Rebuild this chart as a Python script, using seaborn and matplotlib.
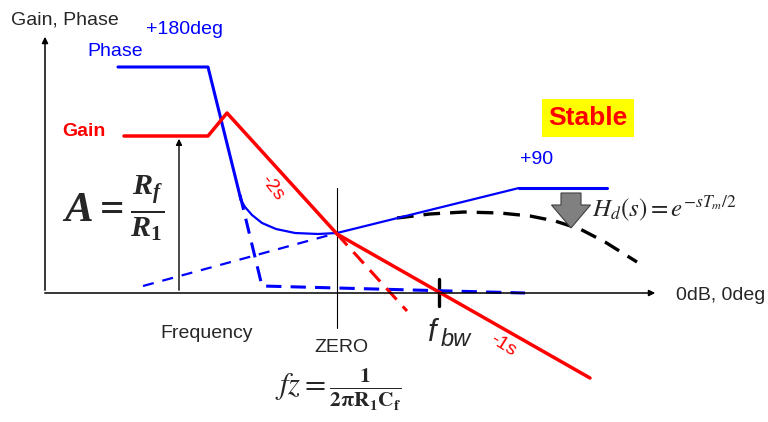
import matplotlib
matplotlib.use("Agg")
import matplotlib.pyplot as plt
import seaborn as sns

sns.set_style("white")
plt.rcParams['font.family'] = ['Liberation Sans', 'DejaVu Sans']
plt.rcParams['mathtext.fontset'] = 'stix'
# bold italic serif for the gain formula
plt.rcParams['mathtext.rm'] = 'Liberation Serif:bold'
plt.rcParams['mathtext.it'] = 'Liberation Serif:italic:bold'
plt.rcParams['mathtext.bf'] = 'Liberation Serif:bold'

# asymptotic Bode sketch, values in picture units (x right, y down)
phase_x = [118, 208, 241]
phase_y = [67, 67, 200]
phase_knee_x = [241, 245, 252, 262, 276, 295, 318, 337]
phase_knee_y = [200, 207, 215, 223, 229, 233, 234, 233]
phase_rise_x = [337, 519, 607]
phase_rise_y = [233, 188, 188]

gain_x = [124, 208, 227, 337, 590]
gain_y = [136, 136, 113, 234, 378]
gain_ext_x = [337, 407]
gain_ext_y = [234, 311]

zero_asym_x = [143, 337]
zero_asym_y = [286, 233]
pole_asym_x = [240, 262, 525]
pole_asym_y = [195, 286, 293]

delay_x = [397, 430, 464, 500, 530, 555, 580, 605, 637]
delay_y = [218, 214, 212, 213, 216, 221, 229, 242, 262]

BLUE = '#0000ff'
RED = '#ff0000'

fig = plt.figure(figsize=(7.68, 4.22), dpi=100)
ax = fig.add_axes([0, 0, 1, 1])
ax.set_xlim(0, 768)
ax.set_ylim(422, 0)
ax.axis('off')

# axes of the sketch
ax.annotate('', xy=(45, 34), xytext=(45, 293),
            arrowprops=dict(arrowstyle='-|>', color='black', lw=1.1, mutation_scale=9))
ax.annotate('', xy=(658, 293), xytext=(42, 293),
            arrowprops=dict(arrowstyle='-|>', color='black', lw=1.1, mutation_scale=9))
ax.annotate('', xy=(179, 136), xytext=(179, 293),
            arrowprops=dict(arrowstyle='-|>', color='black', lw=1.0, mutation_scale=9))
ax.plot([337, 337], [188, 328], color='black', lw=0.8)
ax.plot([439, 439], [279, 306], color='black', lw=2.4)

# dashed asymptotes
sns.lineplot(x=zero_asym_x, y=zero_asym_y, sort=False, estimator=None, ax=ax,
             color=BLUE, lw=1.6, linestyle=(0, (5, 4)))
sns.lineplot(x=pole_asym_x, y=pole_asym_y, sort=False, estimator=None, ax=ax,
             color=BLUE, lw=2.2, linestyle=(0, (5, 3)))
sns.lineplot(x=gain_ext_x, y=gain_ext_y, sort=False, estimator=None, ax=ax,
             color=RED, lw=2.2, linestyle=(0, (5, 3)))
sns.lineplot(x=delay_x, y=delay_y, sort=False, estimator=None, ax=ax,
             color='black', lw=2.4, linestyle=(0, (5, 3)))

# phase
sns.lineplot(x=phase_x, y=phase_y, sort=False, estimator=None, ax=ax, color=BLUE, lw=2.2)
sns.lineplot(x=phase_knee_x, y=phase_knee_y, sort=False, estimator=None, ax=ax, color=BLUE, lw=1.6)
sns.lineplot(x=phase_rise_x[:2], y=phase_rise_y[:2], sort=False, estimator=None, ax=ax,
             color=BLUE, lw=1.6)
sns.lineplot(x=phase_rise_x[1:], y=phase_rise_y[1:], sort=False, estimator=None, ax=ax,
             color=BLUE, lw=2.2)

# gain
sns.lineplot(x=gain_x, y=gain_y, sort=False, estimator=None, ax=ax, color=RED, lw=2.5)

# delay arrow
ax.arrow(571, 193, 0, 35, width=20, head_width=39, head_length=23,
         length_includes_head=True, fc='#808080', ec='#404040', lw=0.8, zorder=4)

# labels
ax.text(11, 20, 'Gain, Phase', fontsize=14, va='center', ha='left')
ax.text(146, 30, '+180deg', fontsize=14, color=BLUE, va='center', ha='left')
ax.text(87, 52, 'Phase', fontsize=14, color=BLUE, va='center', ha='left')
ax.text(62, 132, 'Gain', fontsize=14, color=RED, fontweight='bold', va='center', ha='left')
ax.text(588, 118, 'Stable', fontsize=19, color=RED, fontweight='bold', va='center', ha='center',
        bbox=dict(boxstyle='square,pad=0.25', fc='#ffff00', ec='none'))
ax.text(520, 160, '+90', fontsize=14, color=BLUE, va='center', ha='left')
ax.text(272, 188, '-2s', fontsize=14, color=RED, va='center', ha='center', rotation=-52)
ax.text(503, 345, '-1s', fontsize=14, color=RED, va='center', ha='center', rotation=-32)
ax.text(676, 296, '0dB, 0deg', fontsize=14, va='center', ha='left')
ax.text(160, 333, 'Frequency', fontsize=14, va='center', ha='left')
ax.text(341, 347, 'ZERO', fontsize=14, va='center', ha='center')
ax.text(428, 341, 'f', fontsize=22, style='italic', va='baseline', ha='left')
ax.text(441, 346, 'bw', fontsize=17, style='italic', va='baseline', ha='left')

ax.text(62, 208, r'$A = \frac{R_f}{R_1}$', fontsize=31, va='center', ha='left',
        math_fontfamily='custom')
ax.text(275, 390, r'$fz = \frac{\mathbf{1}}{\mathbf{2\pi R_1 C_f}}$', fontsize=22,
        va='center', ha='left', math_fontfamily='stix')
ax.text(592, 208, r'$H_d(s) = e^{-sT_m/2}$', fontsize=18, va='center', ha='left',
        math_fontfamily='stix')

fig.savefig('out.png', dpi=100)
